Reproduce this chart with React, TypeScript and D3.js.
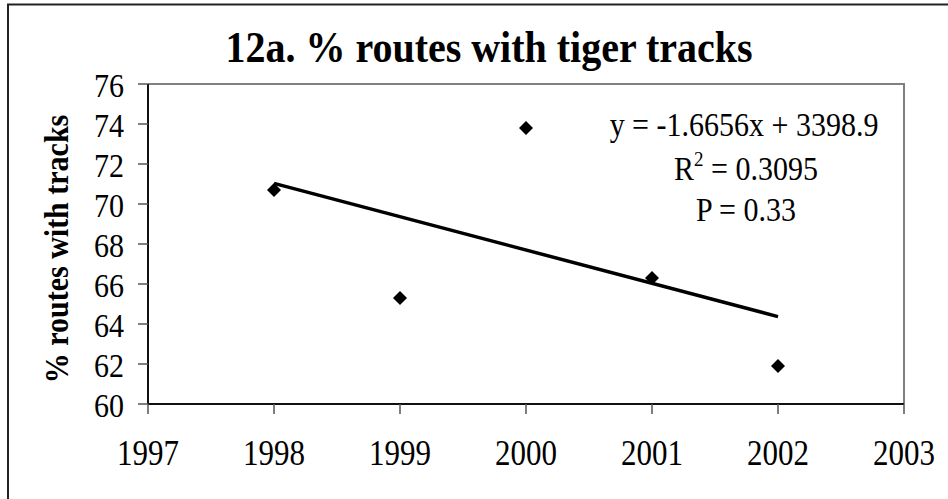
import React from "react";
import * as d3 from "d3";

const years = [1998, 1999, 2000, 2001, 2002];
const pctRoutes = [70.7, 65.3, 73.8, 66.3, 61.9];
const xTicks = [1997, 1998, 1999, 2000, 2001, 2002, 2003];
const yTicks = [60, 62, 64, 66, 68, 70, 72, 74, 76];
const slope = -1.6656;
const intercept = 3398.9;
const titleText = "12a. % routes with tiger tracks";
const yLabel = "% routes with tracks";
const eqText = "y = -1.6656x + 3398.9";
const r2Value = "0.3095";
const pText = "P = 0.33";

const W = 948;
const H = 499;
const plot = { left: 148, right: 904, top: 84, bottom: 404 };
const font = "'Liberation Serif', 'Times New Roman', serif";
const K = 1.13;

function T({ x, y, children, rotate = 0, ...rest }: any) {
  return (
    <g transform={`translate(${x},${y}) rotate(${rotate}) scale(1,${K})`}>
      <text x={0} y={0} {...rest}>
        {children}
      </text>
    </g>
  );
}

export default function App() {
  const x = d3.scaleLinear().domain([1997, 2003]).range([plot.left, plot.right]);
  const y = d3.scaleLinear().domain([60, 76]).range([plot.bottom, plot.top]);
  const diamond = d3.symbol().type(d3.symbolDiamond2).size(125)();
  const trendX = [d3.min(years)!, d3.max(years)!];
  const line = d3
    .line<number>()
    .x((d) => x(d))
    .y((d) => y(slope * d + intercept))(trendX);

  return (
    <svg
      width={W}
      height={H}
      style={{ position: "absolute", left: 0, top: 0, background: "#fff" }}
      fontFamily={font}
    >
      <rect x={0} y={0} width={W} height={H} fill="#fff" />
      <rect x={8} y={4.5} width={W + 20} height={H + 20} fill="none" stroke="#222" strokeWidth={2} />
      <T x={489} y={62} textAnchor="middle" fontSize={40} fontWeight="bold">
        {titleText}
      </T>
      {/* plot border */}
      <path
        d={`M${plot.left},${plot.top}H${plot.right}V${plot.bottom}`}
        fill="none"
        stroke="#808080"
        strokeWidth={2}
      />
      {/* y axis */}
      <line x1={plot.left} x2={plot.left} y1={plot.top} y2={plot.bottom} stroke="#111" strokeWidth={2} />
      {yTicks.map((t) => (
        <g key={"y" + t}>
          <line x1={plot.left - 10} x2={plot.left} y1={y(t)} y2={y(t)} stroke="#555" strokeWidth={1.5} />
          <T x={124} y={y(t) + 12.5} textAnchor="end" fontSize={30}>
            {t}
          </T>
        </g>
      ))}
      {/* x axis */}
      <line x1={plot.left} x2={plot.right} y1={plot.bottom} y2={plot.bottom} stroke="#111" strokeWidth={2} />
      {xTicks.map((t) => (
        <g key={"x" + t}>
          <line x1={x(t)} x2={x(t)} y1={plot.bottom} y2={plot.bottom + 10} stroke="#555" strokeWidth={1.5} />
          <T x={x(t)} y={465} textAnchor="middle" fontSize={31}>
            {t}
          </T>
        </g>
      ))}
      <T x={68} y={(plot.top + plot.bottom) / 2 + 5} rotate={-90} textAnchor="middle" fontSize={30} fontWeight="bold">
        {yLabel}
      </T>
      {/* trend line */}
      <path d={line!} fill="none" stroke="#000" strokeWidth={3.5} />
      {/* points */}
      {years.map((yr, i) => (
        <path key={yr} d={diamond!} transform={`translate(${x(yr)},${y(pctRoutes[i])})`} fill="#000" />
      ))}
      {/* equation */}
      <T x={744} y={136} textAnchor="middle" fontSize={30}>
        {eqText}
      </T>
      <T x={746} y={180} textAnchor="middle" fontSize={30}>
        R<tspan dy={-12} fontSize={19}>2</tspan>
        <tspan dy={12}>{" = " + r2Value}</tspan>
      </T>
      <T x={746} y={221} textAnchor="middle" fontSize={30}>
        {pText}
      </T>
    </svg>
  );
}
